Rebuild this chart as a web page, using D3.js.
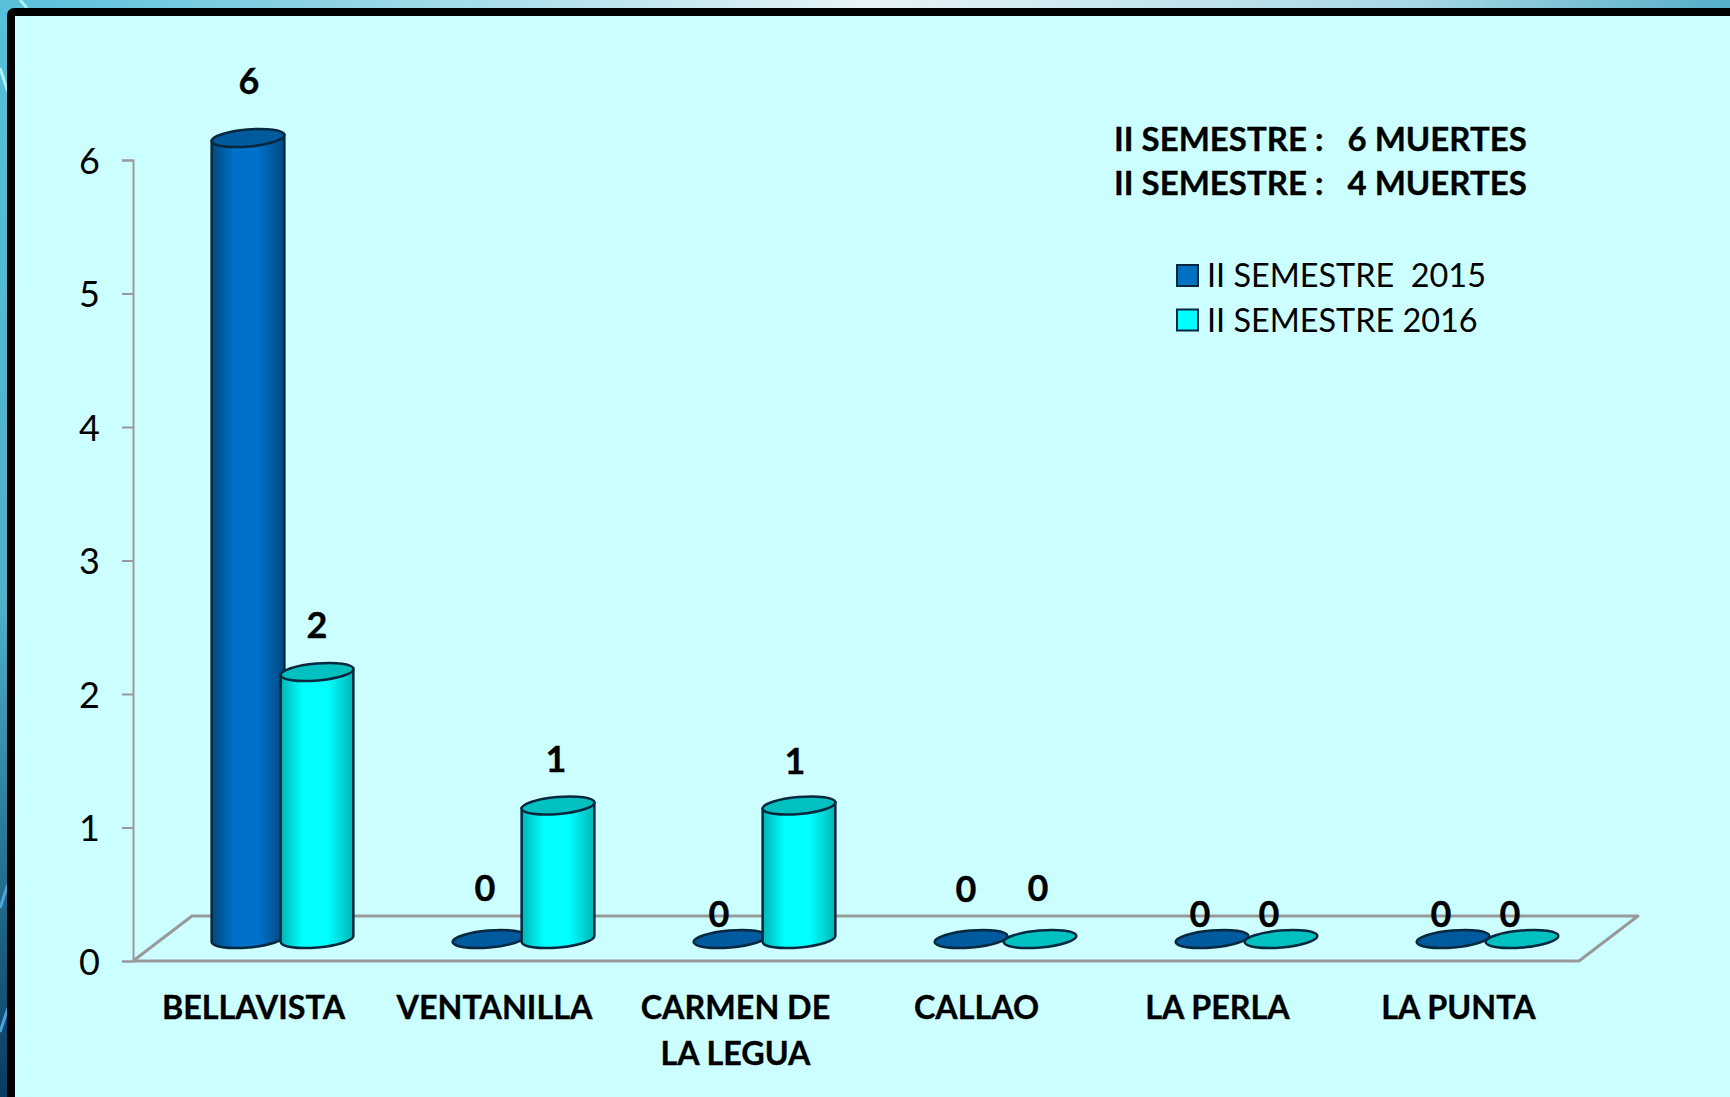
<!DOCTYPE html>
<html>
<head>
<meta charset="utf-8">
<script src="https://cdn.jsdelivr.net/npm/d3@7/dist/d3.min.js"></script>
<style>
  html, body { margin: 0; padding: 0; background: #ccffff; overflow: hidden; }
  svg { display: block; }
  text { font-family: Lato, "Open Sans", sans-serif; fill: #000; }
  .bold { font-weight: 700; stroke: #000; stroke-width: 0.35px; }
</style>
</head>
<body>
<div id="chart"></div>
<script>
const categories = ["BELLAVISTA", "VENTANILLA", "CARMEN DE|LA LEGUA", "CALLAO", "LA PERLA", "LA PUNTA"];
const seriesNames = ["II SEMESTRE  2015", "II SEMESTRE 2016"];
const semestre2015 = [6, 0, 0, 0, 0, 0];
const semestre2016 = [2, 1, 1, 0, 0, 0];
const yTicks = [0, 1, 2, 3, 4, 5, 6];
const notes = ["II SEMESTRE :   6 MUERTES", "II SEMESTRE :   4 MUERTES"];

// hand placed label offsets from the top of each cylinder
const labelNudge2015 = [[1, -58], [-4, -52], [-11, -26], [-5, -51], [-12, -26], [-12, -26]];
const labelNudge2016 = [[0, -48], [-2, -48], [-4, -46], [-2, -52], [-12, -26], [-12, -26]];

const width = 1730, height = 1097;
const svg = d3.select("#chart").append("svg").attr("width", width).attr("height", height);
const defs = svg.append("defs");

// page background behind the frame
const bg = defs.append("linearGradient").attr("id", "bg").attr("gradientUnits", "userSpaceOnUse")
  .attr("x1", 0).attr("y1", 0).attr("x2", width).attr("y2", 0);
[["0%", "#58c0da"], ["50%", "#e6f3f6"], ["82%", "#a6d7e4"], ["100%", "#55aec8"]].forEach(s =>
  bg.append("stop").attr("offset", s[0]).attr("stop-color", s[1]));
const bgLeft = defs.append("linearGradient").attr("id", "bgLeft").attr("x1", 0).attr("y1", 0).attr("x2", 0).attr("y2", 1);
[["0%", "#58c0da"], ["55%", "#4fb0c8"], ["75%", "#2a7c9a"], ["100%", "#0a3a60"]].forEach(s =>
  bgLeft.append("stop").attr("offset", s[0]).attr("stop-color", s[1]));

svg.append("rect").attr("width", width).attr("height", 10).attr("fill", "url(#bg)");
svg.append("rect").attr("width", 10).attr("height", height).attr("fill", "url(#bgLeft)");

// streaks of the slide background that show at the left edge
[["M20,0L27,8", "#a8f4f8"], ["M0,68L8,92", "#a8f4f8"], ["M0,908L8,884", "#4aa6e0"], ["M0,1032L8,1008", "#4aa6e0"]]
  .forEach(s => svg.append("path").attr("d", s[0]).attr("stroke", s[1]).attr("stroke-width", 3).attr("fill", "none"));

svg.append("rect").attr("x", 11).attr("y", 12).attr("width", width + 20).attr("height", height + 20)
  .attr("rx", 3)
  .attr("fill", "#ccffff").attr("stroke", "#000").attr("stroke-width", 8);

const y = d3.scaleLinear().domain([0, 6]).range([961, 160]);
const x = d3.scaleBand().domain(categories).range([162, 1608]);
const inner = d3.scaleBand().domain(seriesNames).range([-69, 69]);

const floorColor = "#999999";
const depth = { x: 59, y: -45 };
const floorLeft = 133, floorRight = 1579;

// floor of the 3d plot
svg.append("path")
  .attr("fill", "none").attr("stroke", floorColor).attr("stroke-width", 3).attr("stroke-linejoin", "round")
  .attr("d", d3.line()([
    [floorLeft, y(0)],
    [floorLeft + depth.x, y(0) + depth.y],
    [floorRight + depth.x, y(0) + depth.y],
    [floorRight, y(0)],
    [floorLeft, y(0)]
  ]));

const axis = svg.append("g").attr("transform", `translate(${floorLeft},0)`)
  .call(d3.axisLeft(y).tickValues(yTicks).tickSize(11).tickPadding(22).tickFormat(d3.format("d")));
axis.selectAll("path,line").attr("stroke", floorColor).attr("stroke-width", 2);
axis.selectAll("text").attr("dy", "0.37em").style("font-size", "36px").style("fill", "#000");

function gradient(id, edge, mid) {
  const g = defs.append("linearGradient").attr("id", id);
  [["0%", edge], ["30%", mid], ["65%", mid], ["100%", edge]].forEach(s =>
    g.append("stop").attr("offset", s[0]).attr("stop-color", s[1]));
}
gradient("body0", "#00487e", "#0070c8");
gradient("body1", "#00b4b4", "#00ffff");

const rx = 36.5, ry = 8.5, tilt = 5;
const baseLift = 22;
const tiltRad = tilt * Math.PI / 180;
const halfW = rx * Math.cos(tiltRad), halfH = rx * Math.sin(tiltRad);
const outline = "#07283f";

function drawSeries(name, values, i, topColor) {
  const g = svg.append("g");
  const rows = values.map((v, k) => ({ cat: categories[k], v: v }));
  const cx = d => x(d.cat) + x.bandwidth() / 2 + inner(name) + inner.bandwidth() / 2;

  g.selectAll("path").data(rows.filter(d => d.v > 0)).enter().append("path")
    .attr("fill", `url(#body${i})`).attr("stroke", outline).attr("stroke-width", 2.5)
    .attr("d", d => {
      const c = cx(d), t = y(d.v) - baseLift, b = y(0) - baseLift;
      return `M${c - halfW},${t + halfH}L${c - halfW},${b + halfH}` +
        `A${rx},${ry} ${-tilt} 0 0 ${c + halfW},${b - halfH}L${c + halfW},${t - halfH}Z`;
    });

  g.selectAll("ellipse").data(rows).enter().append("ellipse")
    .attr("rx", rx).attr("ry", ry)
    .attr("transform", d => `translate(${cx(d)},${y(d.v) - baseLift}) rotate(${-tilt})`)
    .attr("fill", topColor).attr("stroke", outline).attr("stroke-width", 2.5);
}

drawSeries(seriesNames[0], semestre2015, 0, "#005a9e");
drawSeries(seriesNames[1], semestre2016, 1, "#00c0c0");

// value labels go last so they sit above the floor line
function drawLabels(name, values, nudge) {
  svg.append("g").selectAll("text").data(values).enter().append("text")
    .attr("class", "bold")
    .attr("x", (d, k) => x(categories[k]) + x.bandwidth() / 2 + inner(name) + inner.bandwidth() / 2 + nudge[k][0])
    .attr("y", (d, k) => y(d) - baseLift + nudge[k][1])
    .attr("text-anchor", "middle").attr("dominant-baseline", "central")
    .style("font-size", "36px")
    .text(d => d);
}
drawLabels(seriesNames[0], semestre2015, labelNudge2015);
drawLabels(seriesNames[1], semestre2016, labelNudge2016);

// category labels, some wrap on two lines
const catG = svg.append("g");
categories.forEach(c => {
  c.split("|").forEach((line, i) => {
    catG.append("text")
      .attr("class", "bold")
      .attr("x", x(c) + x.bandwidth() / 2 - 29)
      .attr("y", 1019 + i * 46)
      .attr("text-anchor", "middle")
      .style("font-size", "32.3px")
      .text(line);
  });
});

// notes top right
notes.forEach((t, i) => {
  svg.append("text").attr("class", "bold").attr("x", 1114).attr("y", 151 + i * 44)
    .style("white-space", "pre")
    .style("font-size", "33px").text(t);
});

// legend
const legend = svg.append("g").attr("transform", "translate(1177,265)");
seriesNames.forEach((s, i) => {
  const row = legend.append("g").attr("transform", `translate(0,${i * 44.5})`);
  row.append("rect").attr("width", 21).attr("height", 21)
    .attr("fill", i === 0 ? "#0070c0" : "#00ffff").attr("stroke", outline).attr("stroke-width", 2);
  row.append("text").attr("x", 30).attr("y", 22).style("white-space", "pre")
    .style("font-size", "32.4px").text(s);
});
</script>
</body>
</html>
